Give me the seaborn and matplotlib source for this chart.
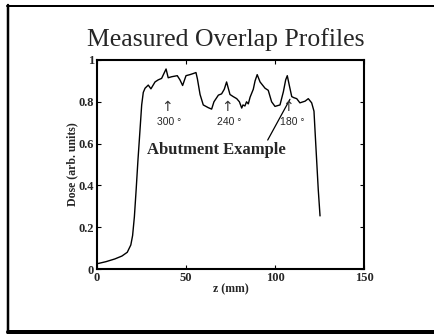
import matplotlib
matplotlib.use("Agg")
import matplotlib.pyplot as plt
from matplotlib.lines import Line2D
import seaborn as sns
import pandas as pd

z_mm = [0, 5, 10, 14, 17, 19, 20, 21, 22, 23, 23.8, 25.1, 26, 27, 28.8, 30.3, 32.6,
        34.4, 36.3, 37.3, 38.8, 40, 42, 45.1, 46.6, 48.1, 50, 52.2, 54, 55.6, 56.4,
        57.9, 59.7, 62.5, 64.4, 65.7, 68.2, 70, 71.5, 72.8, 74.7, 76.5, 78.5, 80,
        81.3, 82, 83.1, 84, 85, 86, 87.8, 88.8, 90, 91.6, 93, 94.4, 96.2, 98.1, 100,
        102.8, 104.7, 106, 106.9, 108, 109.4, 110.5, 112.2, 114, 116.9, 118.7, 120.6,
        121.9, 122.5, 123.4, 124.3, 125.3]
dose = [0.025, 0.035, 0.048, 0.062, 0.08, 0.115, 0.16, 0.25, 0.38, 0.52, 0.62, 0.785,
        0.845, 0.865, 0.88, 0.862, 0.895, 0.905, 0.912, 0.93, 0.957, 0.915, 0.92,
        0.925, 0.905, 0.878, 0.925, 0.93, 0.935, 0.94, 0.91, 0.835, 0.785, 0.772,
        0.765, 0.80, 0.832, 0.838, 0.86, 0.895, 0.835, 0.825, 0.815, 0.80, 0.77,
        0.785, 0.78, 0.80, 0.79, 0.822, 0.86, 0.90, 0.93, 0.895, 0.88, 0.865, 0.855,
        0.80, 0.778, 0.785, 0.848, 0.905, 0.925, 0.88, 0.825, 0.82, 0.815, 0.795,
        0.803, 0.815, 0.795, 0.755, 0.66, 0.52, 0.38, 0.254]

angle_labels = ["300 \u00b0", "240 \u00b0", "180 \u00b0"]
angle_z = [40.5, 74.5, 109.5]
arrow_z = [39.3, 72.8, 107.5]

xticks = [0, 50, 100, 150]
yticks = [0, 0.2, 0.4, 0.6, 0.8, 1]
ytick_labels = ["0", "0.2", "0.4", "0.6", "0.8", "1"]

sns.set_style("white")
plt.rcParams["font.family"] = ["Liberation Serif", "DejaVu Serif"]

W, H = 434, 334
fig = plt.figure(figsize=(W / 100, H / 100), dpi=100)
ax = fig.add_axes([97 / W, 1 - 269 / H, (364 - 97) / W, (269 - 60) / H])

df = pd.DataFrame({"z": z_mm, "dose": dose})
sns.lineplot(data=df, x="z", y="dose", ax=ax, color="black", lw=1.0, sort=False)

ax.set_xlim(0, 150)
ax.set_ylim(0, 1)
ax.set_xticks(xticks)
ax.set_xticklabels([str(t) for t in xticks], fontweight="bold", fontsize=9)
ax.set_yticks(yticks)
ax.set_yticklabels(ytick_labels, fontweight="bold", fontsize=9)
ax.tick_params(direction="in", length=3, width=0.8, top=True, right=True,
               bottom=True, left=True, color="black", pad=2)
for s in ax.spines.values():
    s.set_color("black")
    s.set_linewidth(1.5)

ax.set_xlabel("z (mm)", fontweight="bold", fontsize=8.5, labelpad=0)
ax.set_ylabel("Dose (arb. units)", fontweight="bold", fontsize=8.5, labelpad=0)

fig.text(225.5 / W, 1 - 40 / H, "Measured Overlap Profiles", ha="center", va="center",
         fontsize=18.5)

for lab, tz, az in zip(angle_labels, angle_z, arrow_z):
    ax.text(tz, 0.705, lab, ha="center", va="center", fontsize=7.5,
            family=["Liberation Sans", "DejaVu Sans"])
    ax.text(az, 0.775, "\u2191", ha="center", va="center", fontsize=10,
            family=["DejaVu Sans"], color="#333333")

ax.text(67, 0.57, "Abutment Example", ha="center", va="center", fontsize=12,
        fontweight="bold")
ax.plot([95.9, 108.4], [0.617, 0.812], color="black", lw=0.9)

# slide frame
px = 0.72
fig.add_artist(Line2D([8 / W, 8 / W], [1 - 5 / H, 0], transform=fig.transFigure,
                      color="black", lw=2.5 * px))
fig.add_artist(Line2D([7 / W, 1], [1 - 5.5 / H, 1 - 5.5 / H], transform=fig.transFigure,
                      color="black", lw=2 * px))
fig.add_artist(Line2D([8 / W, 1], [1 - 332 / H, 1 - 332 / H], transform=fig.transFigure,
                      color="black", lw=4 * px))

fig.savefig("out.png", dpi=100)
